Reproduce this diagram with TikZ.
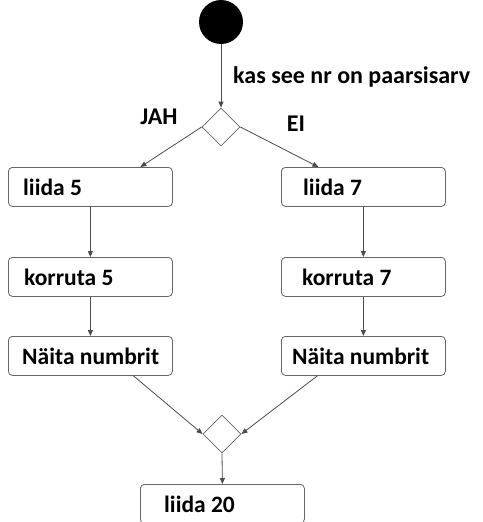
\documentclass[tikz,border=0pt]{standalone}
\usepackage{fontspec}
\setmainfont{Carlito}
\usetikzlibrary{arrows.meta,shapes.geometric}
\begin{document}
\begin{tikzpicture}[x=1pt,y=-1pt,
  flow/.style={draw=black!70,line width=0.8pt,-{Triangle[length=6pt,width=5pt]}},
  % action box frame, 164 x 39
  actbox/.style={draw=black!60,line width=0.8pt,rounded corners=4pt,
    minimum width=164pt,minimum height=39pt,inner sep=0pt,anchor=north west},
  acttext/.style={font=\bfseries\fontsize{23.5}{26}\selectfont,inner sep=0pt,anchor=base west},
  decide/.style={draw=black!60,line width=0.8pt,diamond,minimum width=38pt,minimum height=38pt,inner sep=0pt},
  lbl/.style={font=\bfseries\fontsize{24}{26}\selectfont,inner sep=0pt}]
\useasboundingbox (0,0) rectangle (482,522);
\fill[white] (0,0) rectangle (482,522);
% start and first decision
\node[circle,fill=black,minimum size=44pt,inner sep=0pt] (start) at (221,22) {};
\node[decide] (d1) at (221,127) {};
\node[lbl,anchor=west] (q) at (233,77) {kas see nr on paarsisarv};
\node[lbl] (jah) at (159,117) {JAH};
\node[lbl] (ei) at (296,124) {EI};
% left branch
\node[actbox] (l1) at (8,167) {};
\node[actbox] (l2) at (8,257) {};
\node[actbox] (l3) at (8,336) {};
% right branch
\node[actbox] (r1) at (281,167) {};
\node[actbox] (r2) at (281,257) {};
\node[actbox] (r3) at (281,336) {};
% merge and final action
\node[decide] (d2) at (222,434) {};
\node[actbox] (f) at (140,484) {};
% box texts, each with its own left indent
\node[acttext] (l1t) at ([xshift=15pt,yshift=11pt]l1.south west) {liida 5};
\node[acttext] (l2t) at ([xshift=16pt,yshift=11pt]l2.south west) {korruta 5};
\node[acttext] (l3t) at ([xshift=14pt,yshift=11pt]l3.south west) {Näita numbrit};
\node[acttext] (r1t) at ([xshift=22pt,yshift=11pt]r1.south west) {liida 7};
\node[acttext] (r2t) at ([xshift=21pt,yshift=11pt]r2.south west) {korruta 7};
\node[acttext] (r3t) at ([xshift=11pt,yshift=11pt]r3.south west) {Näita numbrit};
\node[acttext] (ft)  at ([xshift=24pt,yshift=11pt]f.south west)  {liida 20};
% connectors
\draw[flow] (start) -- (d1.north);
\draw[flow] (d1.west) -- ([xshift=50pt]l1.north);
\draw[flow] (d1.east) -- ([xshift=-45pt]r1.north);
\draw[flow] (l1.south) -- (l2.north);
\draw[flow] (l2.south) -- (l3.north);
\draw[flow] (r1.south) -- (r2.north);
\draw[flow] (r2.south) -- (r3.north);
\draw[flow] ([xshift=43pt]l3.south) -- (d2.west);
\draw[flow] ([xshift=-46pt]r3.south) -- (d2.east);
\draw[flow] (d2.south) -- (f.north);
\end{tikzpicture}
\end{document}
